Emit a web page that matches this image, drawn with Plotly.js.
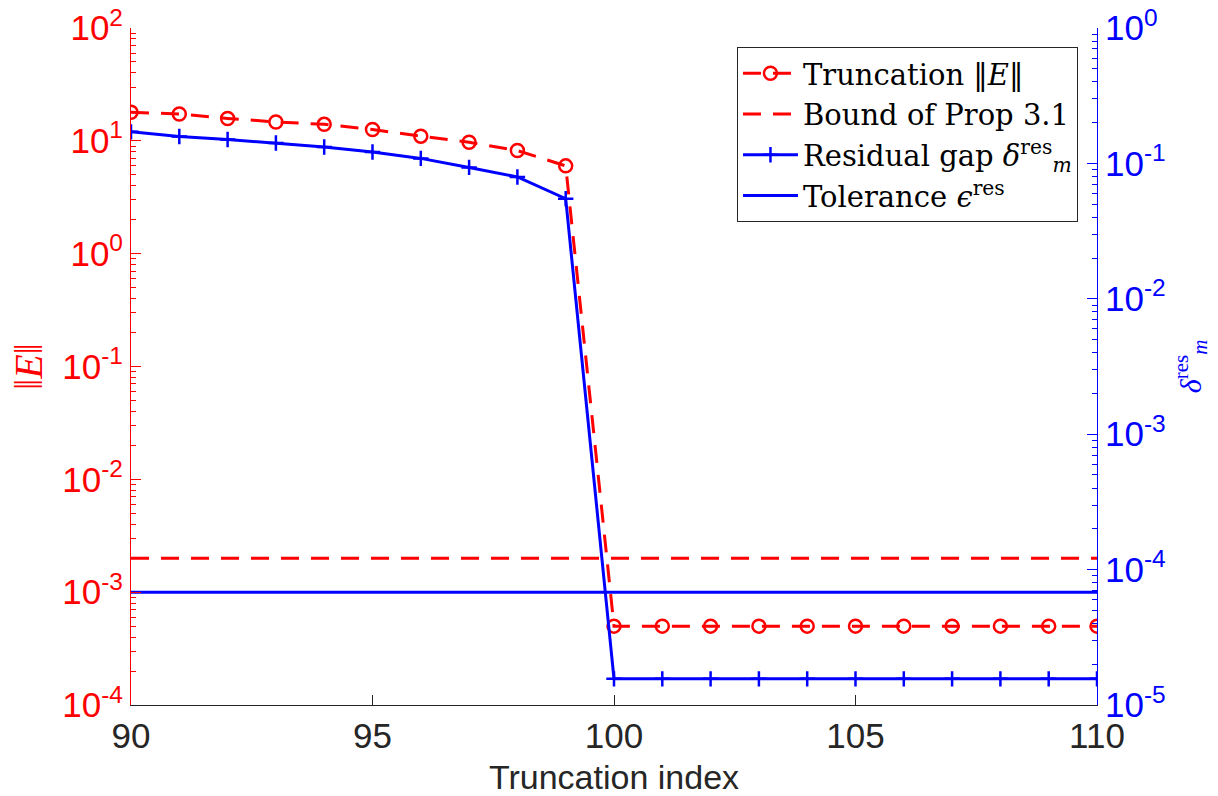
<!DOCTYPE html>
<html>
<head>
<meta charset="utf-8">
<script src="https://cdn.plot.ly/plotly-3.0.1.min.js"></script>
<style>html,body{margin:0;padding:0;background:#fff;}#plot{width:1218px;height:796px;}</style>
</head>
<body>
<div id="plot"></div>
<script>
// ---- data ----
const truncIndex = [90,91,92,93,94,95,96,97,98,99,100,101,102,103,104,105,106,107,108,109,110];
const truncErr = [17.9,17.3,15.8,14.7,14.0,12.6,11.0,9.7,8.2,6.0,
                  5.0e-4,5.0e-4,5.0e-4,5.0e-4,5.0e-4,5.0e-4,5.0e-4,5.0e-4,5.0e-4,5.0e-4,5.0e-4];
const residGap = [0.171,0.158,0.150,0.1415,0.132,0.1214,0.1089,0.0934,0.0794,0.0549,
                  1.56e-5,1.56e-5,1.56e-5,1.56e-5,1.56e-5,1.56e-5,1.56e-5,1.56e-5,1.56e-5,1.56e-5,1.56e-5];
const boundRange = [90,110];
const boundValue = [2e-3,2e-3];
const tolRange = [90,110];
const tolValue = [1e-3,1e-3];
const leftExps = [-4,-3,-2,-1,0,1,2];
const rightExps = [-5,-4,-3,-2,-1,0];
const xTicks = [90,95,100,105,110];

const RED = '#ff0000', BLUE = '#0000ff', DARK = '#262626';
const tickFont = {family:'Liberation Sans, Arial, sans-serif', size:35};

const traces = [
  {x: truncIndex, y: truncErr, type:'scatter', mode:'lines+markers', yaxis:'y',
   name:'Truncation ‖<i>E</i>‖',
   line:{color:RED, width:3, dash:'18px,12px'},
   marker:{symbol:'circle-open', size:13, color:RED, line:{width:2.5, color:RED}}},
  {x: boundRange, y: boundValue, type:'scatter', mode:'lines', yaxis:'y',
   name:'Bound of Prop 3.1',
   line:{color:RED, width:3, dash:'18px,12px'}},
  {x: truncIndex, y: residGap, type:'scatter', mode:'lines+markers', yaxis:'y2',
   name:'Residual gap <i>δ</i><sup>res</sup><sub><i>m</i></sub>',
   line:{color:BLUE, width:3},
   marker:{symbol:'cross-thin-open', size:11, color:BLUE, line:{width:2.5, color:BLUE}}},
  {x: tolRange, y: tolValue, type:'scatter', mode:'lines', yaxis:'y',
   name:'Tolerance <i>ϵ</i><sup>res</sup>',
   line:{color:BLUE, width:3}}
];

const layout = {
  width:1218, height:796,
  margin:{l:131, r:121, t:28, b:91},
  paper_bgcolor:'#fff', plot_bgcolor:'#fff',
  showlegend:true,
  legend:{x:0.9803, xanchor:'right', y:0.972, yanchor:'top',
          bgcolor:'#fff', bordercolor:DARK, borderwidth:1,
          font:{family:'DejaVu Serif, Liberation Serif, serif', size:29, color:'#000'},
          itemwidth:55, tracegroupgap:0},
  xaxis:{range:[90,110], tickmode:'array', tickvals:xTicks, ticktext:xTicks.map(String),
         ticks:'inside', ticklen:10, tickcolor:DARK, showline:true, linecolor:DARK, linewidth:1,
         showgrid:false, zeroline:false, tickfont:Object.assign({color:DARK}, tickFont),
         title:{text:'Truncation index', font:{family:'Liberation Sans, Arial, sans-serif', size:34, color:DARK}, standoff:14}},
  yaxis:{type:'log', range:[-4,2], tickmode:'array', tickvals:leftExps.map(e=>Math.pow(10,e)),
         ticktext:leftExps.map(e=>'10<sup>'+e+'</sup>'),
         ticks:'inside', ticklen:10, tickcolor:RED, showline:true, linecolor:RED, linewidth:1,
         minor:{dtick:'D1', ticks:'inside', ticklen:5, tickcolor:RED, showgrid:false},
         showgrid:false, zeroline:false, tickfont:Object.assign({color:RED}, tickFont)},
  yaxis2:{type:'log', range:[-5,0], overlaying:'y', side:'right', tickmode:'array',
         tickvals:rightExps.map(e=>Math.pow(10,e)),
         ticktext:rightExps.map(e=>'10<sup>'+e+'</sup>'),
         ticks:'inside', ticklen:10, tickcolor:BLUE, showline:true, linecolor:BLUE, linewidth:1,
         minor:{dtick:'D1', ticks:'inside', ticklen:5, tickcolor:BLUE, showgrid:false},
         showgrid:false, zeroline:false, tickfont:Object.assign({color:BLUE}, tickFont)},
  annotations:[
    {text:'‖<i>E</i>‖', xref:'paper', yref:'paper', x:-0.106, y:0.5, xanchor:'center', yanchor:'middle',
     textangle:-90, showarrow:false, font:{family:'Liberation Serif, serif', size:40, color:RED}},
    {text:'<i>δ</i><sup>res</sup><sub><i>m</i></sub>', xref:'paper', yref:'paper', x:1.097, y:0.5, xanchor:'center', yanchor:'middle',
     textangle:-90, showarrow:false, font:{family:'Liberation Serif, serif', size:30, color:BLUE}}
  ]
};

Plotly.newPlot('plot', traces, layout, {displayModeBar:false, staticPlot:true});
</script>
</body>
</html>
